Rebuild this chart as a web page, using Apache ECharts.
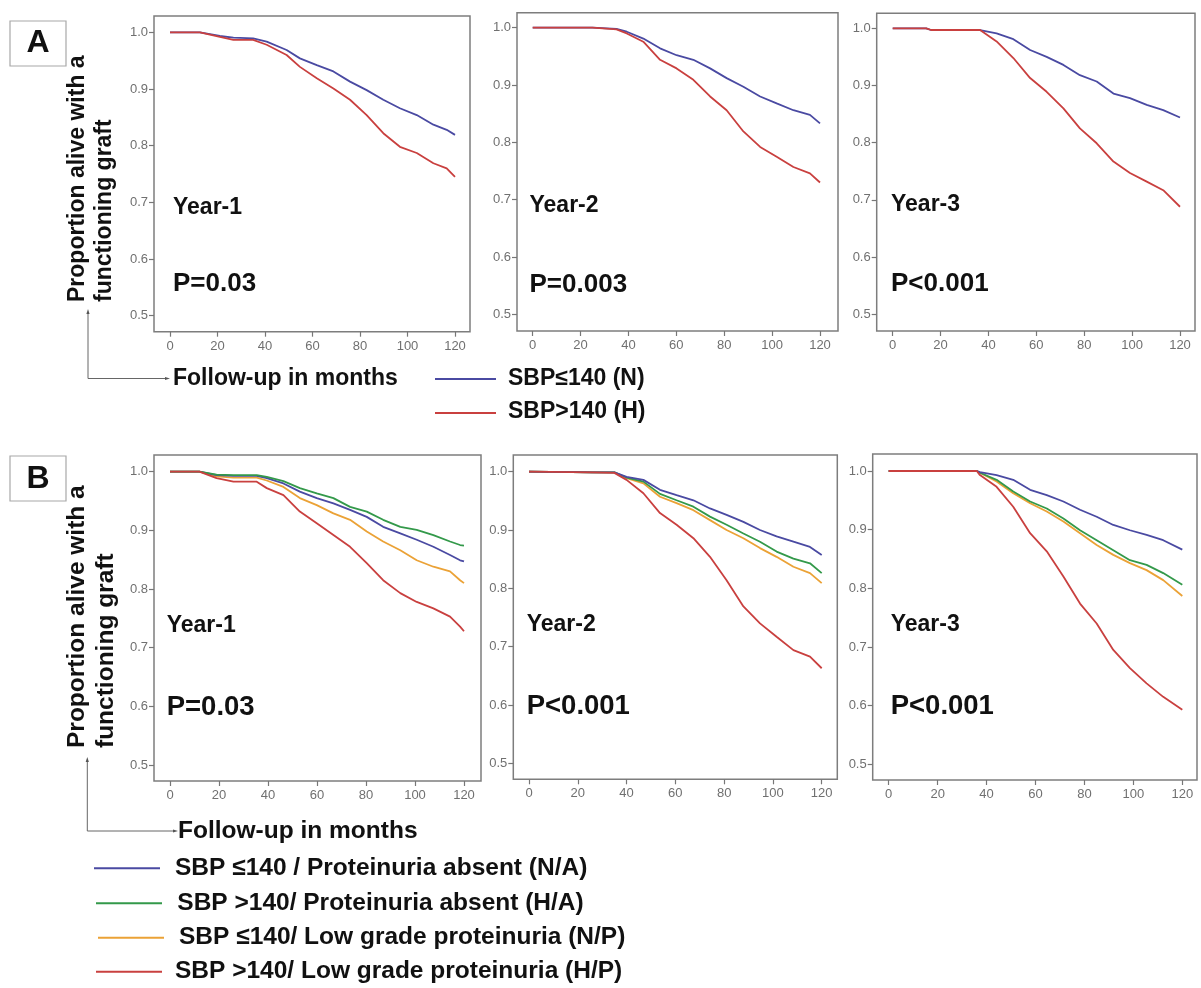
<!DOCTYPE html>
<html>
<head>
<meta charset="utf-8">
<script src="https://cdn.jsdelivr.net/npm/echarts@6/dist/echarts.min.js"></script>
<style>
html,body{margin:0;padding:0;background:#fff;}
#chart{width:1201px;height:988px;}
</style>
</head>
<body>
<div id="chart"></div>
<script>
// ---------- data ----------
const xTicks = [0, 20, 40, 60, 80, 100, 120];
const yTicks = [0.5, 0.6, 0.7, 0.8, 0.9, 1.0];

const A1_time = [0, 12.6, 21, 26.7, 35, 40.7, 49.1, 54.7, 61.8, 68.8, 75.8, 82.8, 89.8, 96.8, 103.9, 110.9, 116.5, 120];
const A1_N = [1, 1, .9935, .9906, .9894, .9835, .9688, .954, .942, .931, .913, .898, .881, .866, .854, .837, .828, .819];
const A1_H = [1, 1, .992, .9865, .9865, .978, .960, .939, .919, .901, .881, .854, .822, .798, .787, .769, .760, .745];

const A2_time = [0, 25, 35, 39.3, 46.2, 53.2, 60.1, 67.1, 74.1, 81, 88, 95, 101.9, 108.9, 115.8, 120];
const A2_N = [1, 1, .998, .993, .981, .964, .952, .944, .929, .912, .897, .880, .868, .856, .848, .833];
const A2_H = [1, 1, .997, .990, .9756, .944, .929, .909, .880, .856, .819, .792, .775, .757, .746, .730];

const A3_time = [0, 14, 16, 36.5, 43.4, 50.4, 57.4, 64.3, 71.3, 78.2, 85.2, 92.2, 99.1, 106.1, 113, 120];
const A3_N = [1, 1, .997, .997, .991, .981, .962, .950, .936, .918, .907, .886, .878, .866, .857, .844];
const A3_H = [1, 1, .997, .997, .977, .948, .913, .889, .860, .825, .799, .767, .747, .732, .717, .688];

const B1_time = [0, 12, 19, 25.9, 35.4, 39.5, 46.3, 53, 59.9, 66.7, 73.5, 80.3, 87, 94, 100.7, 107.5, 114.3, 118.4, 120];
const B1_NA = [1, 1, .994, .993, .993, .989, .980, .966, .955, .946, .935, .923, .906, .895, .884, .872, .858, .849, .847];
const B1_HA = [1, 1, .995, .994, .994, .991, .984, .972, .963, .955, .940, .932, .918, .906, .901, .892, .881, .875, .874];
const B1_NP = [1, 1, .992, .990, .990, .985, .974, .955, .943, .929, .918, .898, .881, .866, .849, .838, .830, .815, .810];
const B1_HP = [1, 1, .989, .983, .983, .972, .960, .932, .912, .892, .872, .844, .815, .793, .778, .767, .753, .736, .728];

const B2_time = [0, 26, 35, 40, 46.9, 53.7, 60.5, 67.4, 74.2, 81, 87.9, 94.7, 101.5, 108.4, 115.2, 120];
const B2_NA = [1, .999, .999, .991, .986, .969, .960, .951, .937, .926, .914, .900, .889, .880, .871, .857];
const B2_HA = [1, .999, .999, .990, .983, .962, .951, .940, .923, .909, .894, .880, .863, .851, .843, .826];
const B2_NP = [1, .999, .999, .989, .980, .957, .946, .934, .917, .900, .886, .869, .854, .837, .826, .809];
const B2_HP = [1, .999, .998, .986, .963, .929, .909, .886, .854, .814, .769, .740, .717, .694, .683, .663];

const B3_time = [0, 36, 37.3, 44.1, 50.9, 57.8, 64.6, 71.4, 78.2, 85, 91.8, 98.6, 105.4, 112.2, 120];
const B3_NA = [1, 1, .998, .993, .985, .968, .959, .948, .934, .922, .908, .899, .891, .882, .866];
const B3_HA = [1, 1, .997, .985, .965, .948, .936, .919, .899, .882, .865, .848, .840, .826, .806];
const B3_NP = [1, 1, .997, .982, .962, .945, .931, .914, .894, .874, .857, .843, .831, .814, .787];
const B3_HP = [1, 1, .993, .973, .939, .894, .863, .820, .774, .740, .695, .664, .638, .615, .593];

const legendA = ['SBP≤140 (N)', 'SBP>140 (H)'];
const legendB = ['SBP ≤140 / Proteinuria absent (N/A)', 'SBP >140/ Proteinuria absent (H/A)',
                 'SBP ≤140/ Low grade proteinuria (N/P)', 'SBP >140/ Low grade proteinuria (H/P)'];
const yearLabels = ['Year-1', 'Year-2', 'Year-3', 'Year-1', 'Year-2', 'Year-3'];
const pLabels = ['P=0.03', 'P=0.003', 'P<0.001', 'P=0.03', 'P<0.001', 'P<0.001'];

// ---------- styles / layout ----------
const C_BLUE = '#4a4aa2', C_RED = '#c9403f', C_GREEN = '#33994a', C_ORANGE = '#eba236';
const FONT = '"Liberation Sans", Arial, Helvetica, sans-serif';

// frame [left,right,top,bottom], x pixel of 0 and 120, y pixel of 1.0 and 0.5
const panels = [
  {f: [154, 470, 16, 331.7], x0: 170, x120: 455, y1: 32.3, y5: 315.7, yr: 208, pr: 283.7, tl: 173},
  {f: [517, 838, 12.7, 331], x0: 532.7, x120: 820, y1: 27.7, y5: 314.3, yr: 206, pr: 284.7, tl: 529.5},
  {f: [876.7, 1195, 13.3, 331], x0: 892.7, x120: 1180, y1: 28.3, y5: 314.3, yr: 205, pr: 284, tl: 891},
  {f: [154, 481, 455, 781], x0: 170, x120: 464, y1: 471.7, y5: 765, yr: 626, pr: 707.5, tl: 166.7},
  {f: [513.3, 837.3, 455, 779.3], x0: 529, x120: 821.7, y1: 471.7, y5: 763.3, yr: 624.7, pr: 706, tl: 526.7},
  {f: [872.7, 1197, 454, 780], x0: 888.7, x120: 1182.3, y1: 471, y5: 764.3, yr: 625, pr: 706, tl: 890.7}
];

const panelSeries = [
  [[A1_time, A1_N, C_BLUE], [A1_time, A1_H, C_RED]],
  [[A2_time, A2_N, C_BLUE], [A2_time, A2_H, C_RED]],
  [[A3_time, A3_N, C_BLUE], [A3_time, A3_H, C_RED]],
  [[B1_time, B1_NP, C_ORANGE], [B1_time, B1_NA, C_BLUE], [B1_time, B1_HA, C_GREEN], [B1_time, B1_HP, C_RED]],
  [[B2_time, B2_NP, C_ORANGE], [B2_time, B2_HA, C_GREEN], [B2_time, B2_NA, C_BLUE], [B2_time, B2_HP, C_RED]],
  [[B3_time, B3_NP, C_ORANGE], [B3_time, B3_HA, C_GREEN], [B3_time, B3_NA, C_BLUE], [B3_time, B3_HP, C_RED]]
];

const grids = [], xAxes = [], yAxes = [], series = [], graphics = [];
panels.forEach((p, i) => {
  const [l, r, t, b] = p.f;
  const xppu = (p.x120 - p.x0) / 120;
  const yppu = (p.y5 - p.y1) / 0.5;
  grids.push({left: l, top: t, width: r - l, height: b - t, show: true,
              borderColor: '#7d7d7d', borderWidth: 1.5, backgroundColor: 'transparent'});
  xAxes.push({type: 'value', gridIndex: i, position: 'bottom',
    min: (l - p.x0) / xppu, max: 120 + (r - p.x120) / xppu,
    axisLine: {show: false, onZero: false}, splitLine: {show: false},
    axisTick: {show: true, customValues: xTicks, length: 5, lineStyle: {color: '#777', width: 1.2}},
    axisLabel: {show: true, customValues: xTicks, margin: 8, color: '#707070', fontSize: 13, fontFamily: FONT}
  });
  yAxes.push({type: 'value', gridIndex: i, position: 'left',
    min: 0.5 - (b - p.y5) / yppu, max: 1.0 + (p.y1 - t) / yppu,
    axisLine: {show: false, onZero: false}, splitLine: {show: false},
    axisTick: {show: true, customValues: yTicks, length: 5, lineStyle: {color: '#777', width: 1.2}},
    axisLabel: {show: true, customValues: yTicks, margin: 6, color: '#707070', fontSize: 13, fontFamily: FONT,
                formatter: v => v.toFixed(1)}
  });
  panelSeries[i].forEach(([tt, vv, col]) => {
    series.push({type: 'line', xAxisIndex: i, yAxisIndex: i, symbol: 'none', silent: true,
      data: tt.map((x, k) => [x, vv[k]]),
      lineStyle: {color: col, width: 1.8}, animation: false});
  });
  const big = i >= 3;
  graphics.push({type: 'text', x: p.tl, y: p.yr,
    style: {text: yearLabels[i], font: 'bold 23px ' + FONT, fill: '#111',
            textAlign: 'left', textVerticalAlign: 'middle'}});
  graphics.push({type: 'text', x: p.tl, y: p.pr,
    style: {text: pLabels[i], font: 'bold ' + (big ? 27.5 : 26) + 'px ' + FONT, fill: '#111',
            textAlign: 'left', textVerticalAlign: 'middle'}});
});

// panel letters
[['A', 21, 43.5], ['B', 456, 479]].forEach(([s, top, cy]) => {
  graphics.push({type: 'rect', shape: {x: 10, y: top, width: 56, height: 45},
    style: {fill: '#fff', stroke: '#a8a8a8', lineWidth: 1.2}});
  graphics.push({type: 'text', x: 38, y: cy,
    style: {text: s, font: 'bold 32px ' + FONT, fill: '#111', textAlign: 'center', textVerticalAlign: 'middle'}});
});

// y axis titles (rotated)
[[78, 105, 302, 23], [77, 106, 748, 24.5]].forEach(([x1, x2, y0, fs]) => {
  graphics.push({type: 'text', x: x1, y: y0, rotation: Math.PI / 2,
    style: {text: 'Proportion alive with a', font: 'bold ' + fs + 'px ' + FONT, fill: '#111',
            textAlign: 'left', textVerticalAlign: 'middle'}});
  graphics.push({type: 'text', x: x2, y: y0, rotation: Math.PI / 2,
    style: {text: 'functioning graft', font: 'bold ' + fs + 'px ' + FONT, fill: '#111',
            textAlign: 'left', textVerticalAlign: 'middle'}});
});

// elbow arrows + "Follow-up in months"
[[88, 312, 378.5, 167, 173, 23], [87.3, 760, 831, 175, 178, 24.5]].forEach(([ax, ytop, yb, xr, tx, fs]) => {
  graphics.push({type: 'polyline', shape: {points: [[ax, ytop], [ax, yb], [xr, yb]]},
    style: {stroke: '#666', lineWidth: 1, fill: null}});
  graphics.push({type: 'polygon', shape: {points: [[ax, ytop - 3], [ax - 1.6, ytop + 2], [ax + 1.6, ytop + 2]]},
    style: {fill: '#555'}});
  graphics.push({type: 'polygon', shape: {points: [[xr + 3, yb], [xr - 2, yb - 1.6], [xr - 2, yb + 1.6]]},
    style: {fill: '#555'}});
  graphics.push({type: 'text', x: tx, y: yb + 0.5,
    style: {text: 'Follow-up in months', font: 'bold ' + fs + 'px ' + FONT, fill: '#111',
            textAlign: 'left', textVerticalAlign: 'middle'}});
});

// legend A
[[C_BLUE, 379, 378.5], [C_RED, 413, 412]].forEach(([col, ly, ty], k) => {
  graphics.push({type: 'line', shape: {x1: 435, y1: ly, x2: 496, y2: ly}, style: {stroke: col, lineWidth: 1.8}});
  graphics.push({type: 'text', x: 508, y: ty,
    style: {text: legendA[k], font: 'bold 23px ' + FONT, fill: '#111', textAlign: 'left', textVerticalAlign: 'middle'}});
});
// legend B
[[C_BLUE, 94, 868.3, 175], [C_GREEN, 96, 903.3, 177.3], [C_ORANGE, 98, 937.7, 179], [C_RED, 96, 971.7, 175]]
  .forEach(([col, lx, ly, tx], k) => {
  graphics.push({type: 'line', shape: {x1: lx, y1: ly, x2: lx + 66, y2: ly}, style: {stroke: col, lineWidth: 2}});
  graphics.push({type: 'text', x: tx, y: ly,
    style: {text: legendB[k], font: 'bold 24.5px ' + FONT, fill: '#111', textAlign: 'left', textVerticalAlign: 'middle'}});
});

const chart = echarts.init(document.getElementById('chart'), null, {renderer: 'canvas'});
chart.setOption({
  animation: false,
  backgroundColor: '#fff',
  grid: grids, xAxis: xAxes, yAxis: yAxes, series: series,
  graphic: {elements: graphics}
});
</script>
</body>
</html>
